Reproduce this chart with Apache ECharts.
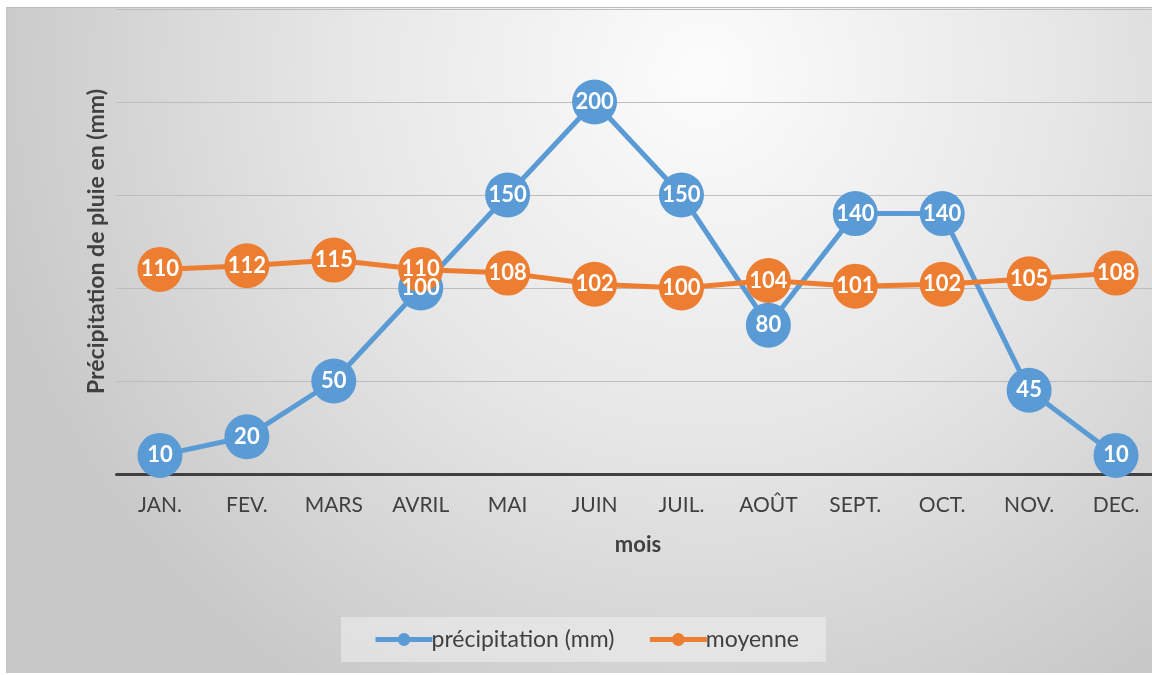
<!DOCTYPE html>
<html>
<head>
<meta charset="utf-8">
<script src="https://cdn.jsdelivr.net/npm/echarts@6/dist/echarts.min.js"></script>
<style>
html,body{margin:0;padding:0;background:#fff;overflow:hidden;width:1152px;height:675px;}
#frame{position:absolute;left:6px;top:7px;width:1146px;height:666px;border-top:1px solid #bdbdbd;border-left:1px solid #c4c4c4;box-sizing:border-box;overflow:hidden;}
#c{position:absolute;left:0;top:0;width:1160px;height:666px;}
</style>
</head>
<body>
<div id="frame"><div id="c"></div></div>
<script>
const categories = ['JAN.','FEV.','MARS','AVRIL','MAI','JUIN','JUIL.','AOÛT','SEPT.','OCT.','NOV.','DEC.'];
const precipitation = [10,20,50,100,150,200,150,80,140,140,45,10];
const moyenne = [110,112,115,110,108,102,100,104,101,102,105,108];
const seriesNames = ['précipitation (mm)','moyenne'];
const yTitle = 'Précipitation de pluie en (mm)';
const xTitle = 'mois';

const FONT = 'Lato, "Open Sans", sans-serif';
const chart = echarts.init(document.getElementById('c'));
const labelStyle = {show:true, position:'inside', color:'#fff', fontWeight:'bold', fontSize:22, fontFamily:FONT};
chart.setOption({
  animation:false,
  backgroundColor:{type:'radial', x:0.6, y:0.1, r:1.1,
    colorStops:[{offset:0,color:'#fcfcfc'},{offset:0.5,color:'#e6e6e6'},{offset:1,color:'#c8c8c8'}]},
  grid:{left:109.5, top:1, width:1043, height:465, containLabel:false},
  legend:{
    left:334, top:609, itemWidth:57, itemHeight:16, itemGap:33,
    backgroundColor:'rgba(240,240,240,0.55)', padding:[11,27,11,32],
    lineStyle:{width:5},
    textStyle:{fontSize:23, color:'#404040', fontFamily:FONT, padding:[0,0,0,-6]},
    data:seriesNames
  },
  xAxis:{
    type:'category', data:categories, boundaryGap:true,
    axisLine:{lineStyle:{color:'#404040', width:3}},
    axisTick:{show:false},
    axisLabel:{fontSize:21, color:'#404040', margin:21, fontFamily:FONT, interval:0},
    name:xTitle, nameLocation:'middle', nameGap:60,
    nameTextStyle:{fontSize:22, fontWeight:'bold', color:'#404040', fontFamily:FONT}
  },
  yAxis:{
    type:'value', min:0, max:250, interval:50,
    axisLine:{show:false}, axisTick:{show:false}, axisLabel:{show:false},
    splitLine:{lineStyle:{color:'#bdbdbd', width:1}},
    name:yTitle, nameLocation:'middle', nameGap:8,
    nameTextStyle:{fontSize:23, fontWeight:'bold', color:'#404040', fontFamily:FONT}
  },
  series:[
    {name:seriesNames[0], type:'line', data:precipitation, symbol:'circle', symbolSize:45,
     itemStyle:{color:'#5b9bd5'}, lineStyle:{width:5, color:'#5b9bd5'}, label:labelStyle, z:2},
    {name:seriesNames[1], type:'line', data:moyenne, symbol:'circle', symbolSize:45,
     itemStyle:{color:'#ed7d31'}, lineStyle:{width:5, color:'#ed7d31'}, label:labelStyle, z:2}
  ]
});
</script>
</body>
</html>
